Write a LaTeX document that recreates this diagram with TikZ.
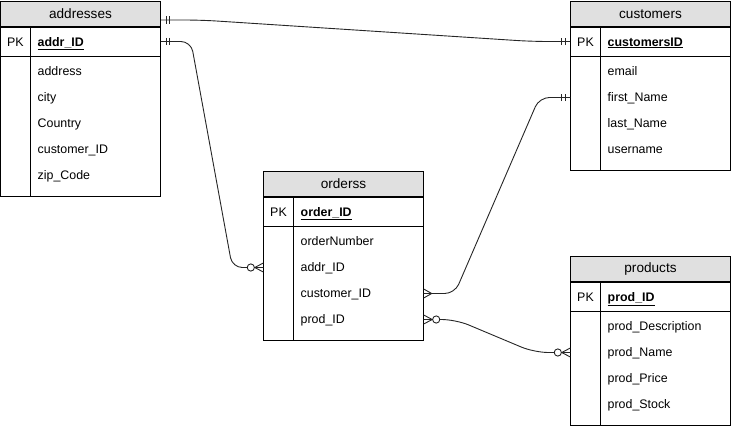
\documentclass[tikz,border=0pt]{standalone}
\usepackage{fontspec}
\setmainfont{Liberation Sans}
\usetikzlibrary{calc}

\definecolor{hdgray}{HTML}{E0E0E0}

\tikzset{
  x=1pt, y=-1pt,
  frame/.style={draw=black, line width=0.9pt},
  title/.style={frame, fill=hdgray, minimum width=160pt, minimum height=26pt,
    inner sep=0pt, font=\fontsize{13.6}{15}\selectfont},
  keyrow/.style={frame, minimum width=160pt, minimum height=30pt, inner sep=0pt},
  rowbox/.style={minimum width=160pt, minimum height=26pt, inner sep=0pt},
  field/.style={anchor=base west, inner sep=0pt, font=\fontsize{12.4}{14}\selectfont},
  keytag/.style={anchor=base, inner sep=0pt, font=\fontsize{12.4}{14}\selectfont},
  conn/.style={draw=black!85, line width=0.9pt},
  pics/mandone/.style={code={
    \draw[conn] (5,-3.6) -- (5,3.6) (8.5,-3.6) -- (8.5,3.6);}},
  pics/onemany/.style={code={
    \draw[conn] (0,-4.5) -- (8,0) -- (0,4.5);}},
  pics/zeromany/.style={code={
    \draw[conn] (0,-4.5) -- (8.5,0) -- (0,4.5);
    \draw[conn, fill=white] (12.5,0) circle (3.6);}},
}

% #1 node name, #2 top-left corner, #3 table title, #4 key column, #5 attributes
\newcommand\erentity[5]{%
  \begin{scope}[shift={#2}]
    \node[title] (#1) at (80,13.5) {#3};
    \node[keyrow] (#1-pk) at (80,41) {};
    \node[keytag] (#1-pktag) at (15,45.5) {PK};
    \node[field] (#1-pkname) at (37,45.5) {\underline{\textbf{#4}}};
    \foreach \f [count=\i] in {#5} {
      \node[rowbox] (#1-r\i) at (80,{71+26*(\i-1)}) {};
      \node[field] (#1-t\i) at (37,{74.6+26*(\i-1)}) {\f};
      \xdef\nrows{\i}
    }
    \draw[frame] (0,56) rectangle (160,{66+26*\nrows});
    \draw[frame] (30,26) -- (30,{66+26*\nrows});
  \end{scope}}

\begin{document}
\begin{tikzpicture}
  \useasboundingbox (0,0) rectangle (731,426);

  \erentity{addresses}{(0.5,0.5)}{addresses}{addr\_ID}%
    {address, city, Country, customer\_ID, zip\_Code}
  \erentity{customers}{(570.5,0.5)}{customers}{customersID}%
    {email, first\_Name, last\_Name, username}
  \erentity{orderss}{(263.5,170.5)}{orderss}{order\_ID}%
    {orderNumber, addr\_ID, customer\_ID, prod\_ID}
  \erentity{products}{(570.5,255.5)}{products}{prod\_ID}%
    {prod\_Description, prod\_Name, prod\_Price, prod\_Stock}

  % relationships
  \draw[conn, rounded corners=16] ($(addresses.east)+(0,6)$) -- ++(40,0)
    -- ($(customers-pk.west)+(-38,0)$) -- (customers-pk.west);
  \draw[conn, rounded corners=10] (addresses-pk.east) -- ++(30,0)
    -- ($(orderss-r2.west)+(-31,0)$) -- (orderss-r2.west);
  \draw[conn, rounded corners=10] (customers-r2.west) -- ++(-31,0)
    -- ($(orderss-r3.east)+(31,0)$) -- (orderss-r3.east);
  \draw[conn, rounded corners=14] (orderss-r4.east) -- ++(32,0)
    -- ($(products-r2.west)+(-36,0)$) -- (products-r2.west);

  % cardinality marks
  \pic at ($(addresses.east)+(0,6)$) {mandone};
  \pic[rotate=180] at (customers-pk.west) {mandone};
  \pic at (addresses-pk.east) {mandone};
  \pic[rotate=180] at (orderss-r2.west) {zeromany};
  \pic[rotate=180] at (customers-r2.west) {mandone};
  \pic at (orderss-r3.east) {onemany};
  \pic at (orderss-r4.east) {zeromany};
  \pic[rotate=180] at (products-r2.west) {zeromany};
\end{tikzpicture}
\end{document}
